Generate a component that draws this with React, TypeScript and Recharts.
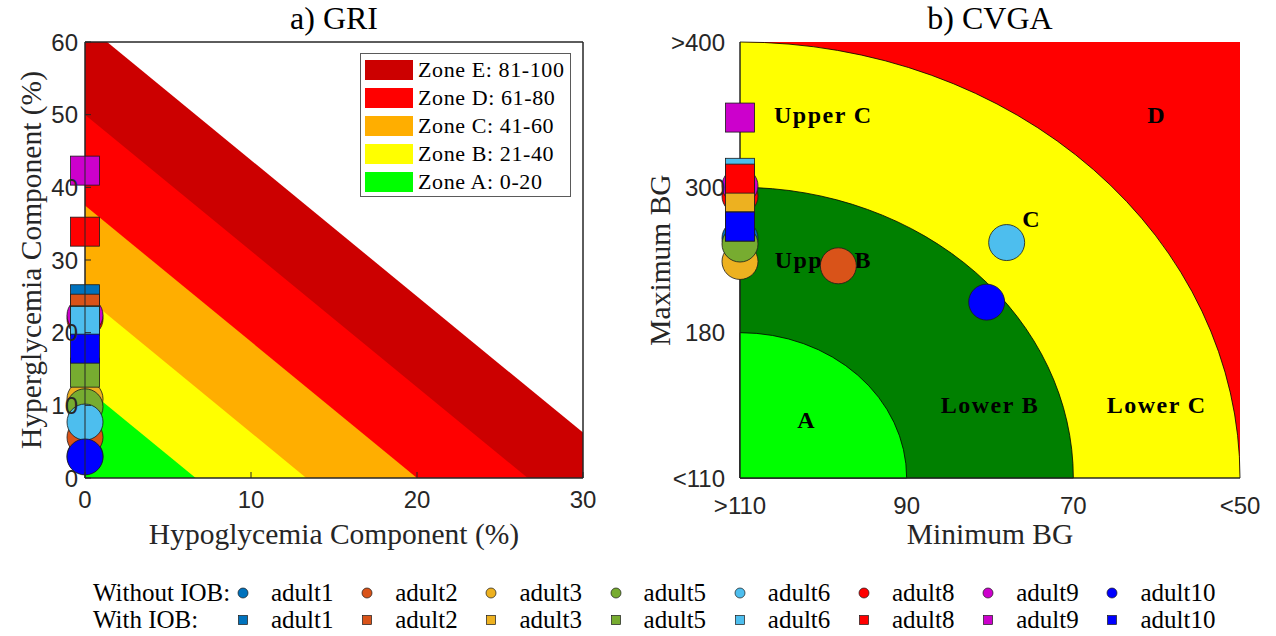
import React from "react";
import { ComposedChart, Scatter, XAxis, YAxis, ReferenceArea, Label } from "recharts";

// subjects and their colours
const adults = ["adult1", "adult2", "adult3", "adult5", "adult6", "adult8", "adult9", "adult10"];
const adultColors = ["#0072BD", "#D95319", "#EDB120", "#77AC30", "#4DBEEE", "#FF0000", "#CC00CC", "#0000FF"];

// a) GRI components (%)
const griHypoNoIob = [0, 0, 0, 0, 0, 0, 0, 0];
const griHyperNoIob = [3.0, 5.6, 10.9, 9.8, 7.7, 21.9, 22.4, 2.9];
const griHypoIob = [0, 0, 0, 0, 0, 0, 0, 0];
const griHyperIob = [24.6, 23.3, 21.7, 14.5, 21.6, 33.9, 42.3, 17.8];

// GRI zones: each zone upper bound is a line from (0, hyperMax) to (hypoMax, 0)
const griZoneNames = ["Zone E: 81-100", "Zone D: 61-80", "Zone C: 41-60", "Zone B: 21-40", "Zone A: 0-20"];
const griZoneColors = ["#CC0000", "#FF0000", "#FFAE00", "#FFFF00", "#00FF00"];
const griZoneHypoMax = [33.33, 26.67, 20, 13.33, 6.67];
const griZoneHyperMax = [62.5, 50, 37.5, 25, 12.5];
const griXTicks = [0, 10, 20, 30];
const griYTicks = [0, 10, 20, 30, 40, 50, 60];

// b) CVGA, positions in axis segments (0..3)
const cvgaXTicks = [0, 1, 2, 3];
const cvgaXLabels = [">110", "90", "70", "<50"];
const cvgaYTicks = [0, 1, 2, 3];
const cvgaYLabels = ["<110", "180", "300", ">400"];
const cvgaZoneRadius = [3, 2, 1];
const cvgaZoneColors = ["#FFFF00", "#008000", "#00FF00"];
const cvgaLabelText = ["A", "Lower B", "Upper B", "Lower C", "C", "Upper C", "D"];
const cvgaLabelX = [0.4, 1.5, 0.5, 2.5, 1.75, 0.5, 2.5];
const cvgaLabelY = [0.4, 0.5, 1.5, 0.5, 1.78, 2.5, 2.5];
const cvgaMinNoIob = [0, 0.59, 0, 0, 1.6, 0, 0, 1.48];
const cvgaMaxNoIob = [1.65, 1.46, 1.49, 1.61, 1.62, 1.94, 2.01, 1.21];
const cvgaMinIob = [0, 0, 0, 0, 0, 0, 0, 0];
const cvgaMaxIob = [1.76, 1.8, 1.93, 1.73, 2.1, 2.06, 2.48, 1.73];

const SERIF = "'Liberation Serif', 'Times New Roman', serif";
const SANS = "'Liberation Sans', Arial, sans-serif";
const AXIS = "#262626";

// left plot area inside its svg (from the margins below)
const GRI_PLOT = { x: 85, y: 42, w: 498, h: 436 };

const pts = (xs: number[], ys: number[]) => xs.map((x, i) => [{ x, y: ys[i] }]);

const circle = (color: string) => (p: any) => (
  <circle cx={p.cx} cy={p.cy} r={18} fill={color} stroke="#1a1a1a" strokeWidth={0.8} />
);
const square = (color: string) => (p: any) => (
  <rect x={p.cx - 14.5} y={p.cy - 14.5} width={29} height={29} fill={color} stroke="#1a1a1a" strokeWidth={0.8} />
);
const triangle = (color: string, id: string) => (p: any) => (
  <g>
    <defs>
      <clipPath id={id}>
        <rect x={GRI_PLOT.x} y={GRI_PLOT.y} width={GRI_PLOT.w} height={GRI_PLOT.h} />
      </clipPath>
    </defs>
    <path
      clipPath={`url(#${id})`}
      d={`M${p.x},${p.y + p.height} L${p.x + p.width},${p.y + p.height} L${p.x},${p.y} Z`}
      fill={color}
    />
  </g>
);
const quarter = (color: string) => (p: any) => (
  <path
    d={`M${p.x},${p.y + p.height} L${p.x + p.width},${p.y + p.height} A${p.width} ${p.height} 0 0 0 ${p.x},${p.y} Z`}
    fill={color}
    stroke="#000"
    strokeWidth={0.8}
  />
);
const zoneText = (p: any) => (
  <text
    x={p.cx}
    y={p.cy}
    textAnchor="middle"
    dominantBaseline="central"
    fontFamily={SERIF}
    fontWeight="bold"
    fontSize={24}
    letterSpacing={1.5}
    fill="#000"
  >
    {p.payload.t}
  </text>
);

const tickStyle = { fontSize: 24, fill: AXIS, fontFamily: SANS };

function GriChart() {
  const noIob = pts(griHypoNoIob, griHyperNoIob);
  const iob = pts(griHypoIob, griHyperIob);
  return (
    <ComposedChart width={640} height={560} margin={{ top: 41, right: 56, bottom: 22, left: 0 }}>
      {griZoneNames.map((n, i) => (
        <ReferenceArea
          key={n}
          x1={0}
          x2={griZoneHypoMax[i]}
          y1={0}
          y2={griZoneHyperMax[i]}
          ifOverflow="visible"
          shape={triangle(griZoneColors[i], "griclip" + i)}
        />
      ))}
      <ReferenceArea x1={0} x2={30} y1={0} y2={60} fill="none" fillOpacity={0} stroke={AXIS} strokeWidth={1} />
      {noIob.map((d, i) => (
        <Scatter key={"c" + i} name={adults[i]} data={d} shape={circle(adultColors[i])} isAnimationActive={false} />
      ))}
      {iob.map((d, i) => (
        <Scatter key={"s" + i} name={adults[i]} data={d} shape={square(adultColors[i])} isAnimationActive={false} />
      ))}
      <XAxis
        type="number"
        dataKey="x"
        domain={[0, 30]}
        ticks={griXTicks}
        interval={0}
        height={60}
        tickSize={-6}
        tickMargin={19}
        tick={tickStyle}
        stroke={AXIS}
        zIndex={700}
      >
        <Label value="Hypoglycemia Component (%)" position="center" dy={26} fontSize={29.5} fontFamily={SERIF} fill={AXIS} />
      </XAxis>
      <YAxis
        type="number"
        dataKey="y"
        domain={[0, 60]}
        ticks={griYTicks}
        interval={0}
        width={85}
        tickSize={-6}
        tickMargin={13}
        tick={tickStyle}
        stroke={AXIS}
        zIndex={700}
      >
        <Label value="Hyperglycemia Component (%)" position="center" angle={-90} dx={-12} fontSize={29.5} fontFamily={SERIF} fill={AXIS} />
      </YAxis>
      <XAxis
        xAxisId="top"
        orientation="top"
        type="number"
        domain={[0, 30]}
        ticks={griXTicks}
        interval={0}
        height={1}
        tickSize={-6}
        tickFormatter={() => ""}
        stroke={AXIS}
        zIndex={700}
      />
      <YAxis
        yAxisId="right"
        orientation="right"
        type="number"
        domain={[0, 60]}
        ticks={griYTicks}
        interval={0}
        width={1}
        tickSize={-6}
        tickFormatter={() => ""}
        stroke={AXIS}
        zIndex={700}
      />
    </ComposedChart>
  );
}

function CvgaChart() {
  const noIob = pts(cvgaMinNoIob, cvgaMaxNoIob);
  const iob = pts(cvgaMinIob, cvgaMaxIob);
  const labels = cvgaLabelText.map((t, i) => ({ x: cvgaLabelX[i], y: cvgaLabelY[i], t }));
  return (
    <ComposedChart width={636} height={560} margin={{ top: 42, right: 36, bottom: 22, left: 0 }}>
      <ReferenceArea x1={0} x2={3} y1={0} y2={3} fill="#FF0000" fillOpacity={1} stroke="none" />
      {cvgaZoneRadius.map((r, i) => (
        <ReferenceArea key={r} x1={0} x2={r} y1={0} y2={r} shape={quarter(cvgaZoneColors[i])} />
      ))}
      <XAxis
        type="number"
        dataKey="x"
        domain={[0, 3]}
        ticks={cvgaXTicks}
        interval={0}
        height={60}
        tickLine={false}
        tickMargin={13}
        tickFormatter={(v: number) => cvgaXLabels[v]}
        tick={tickStyle}
        stroke={AXIS}
      >
        <Label value="Minimum BG" position="center" dy={26} fontSize={29.5} fontFamily={SERIF} fill={AXIS} />
      </XAxis>
      <YAxis
        type="number"
        dataKey="y"
        domain={[0, 3]}
        ticks={cvgaYTicks}
        interval={0}
        width={100}
        tickLine={false}
        tickMargin={9}
        tickFormatter={(v: number) => cvgaYLabels[v]}
        tick={tickStyle}
        stroke={AXIS}
      >
        <Label value="Maximum BG" position="center" angle={-90} dx={-30} fontSize={29.5} fontFamily={SERIF} fill={AXIS} />
      </YAxis>
      <Scatter data={labels} shape={zoneText} isAnimationActive={false} />
      {noIob.map((d, i) => (
        <Scatter key={"c" + i} name={adults[i]} data={d} shape={circle(adultColors[i])} isAnimationActive={false} />
      ))}
      {iob.map((d, i) => (
        <Scatter key={"s" + i} name={adults[i]} data={d} shape={square(adultColors[i])} isAnimationActive={false} />
      ))}
    </ComposedChart>
  );
}

function ZoneLegend() {
  return (
    <div
      style={{
        position: "absolute",
        left: 360,
        top: 53,
        width: 209,
        height: 142,
        background: "#fff",
        border: "1px solid #5a5a5a",
        fontFamily: SERIF,
        fontSize: 22,
        letterSpacing: 0.6,
        color: "#000",
      }}
    >
      {griZoneNames.map((n, i) => (
        <div key={n} style={{ position: "absolute", left: 4, top: 5 + i * 28, height: 22, display: "flex", alignItems: "center" }}>
          <div style={{ width: 48, height: 20, background: griZoneColors[i], marginRight: 5 }} />
          <span style={{ whiteSpace: "nowrap" }}>{n}</span>
        </div>
      ))}
    </div>
  );
}

function BottomLegend() {
  const rows = [
    { title: "Without IOB:", round: true, top: 580 },
    { title: "With IOB:", round: false, top: 607 },
  ];
  return (
    <>
      {rows.map((r) => (
        <div key={r.title} style={{ position: "absolute", left: 0, top: r.top, height: 26, width: 1276, fontFamily: SERIF, fontSize: 25, color: "#000" }}>
          <span style={{ position: "absolute", left: 93, top: 0, lineHeight: "26px", whiteSpace: "nowrap" }}>{r.title}</span>
          {adults.map((a, i) => {
            const cx = 243 + i * 124.2;
            return (
              <React.Fragment key={a}>
                <svg style={{ position: "absolute", left: cx - 6, top: 7 }} width={12} height={12}>
                  {r.round ? (
                    <circle cx={6} cy={6} r={5} fill={adultColors[i]} stroke="#1a1a1a" strokeWidth={0.7} />
                  ) : (
                    <rect x={1.5} y={1.5} width={9} height={9} fill={adultColors[i]} stroke="#1a1a1a" strokeWidth={0.7} />
                  )}
                </svg>
                <span style={{ position: "absolute", left: cx + 28, top: 0, lineHeight: "26px", whiteSpace: "nowrap" }}>{a}</span>
              </React.Fragment>
            );
          })}
        </div>
      ))}
    </>
  );
}

export default function App() {
  return (
    <div style={{ position: "absolute", left: 0, top: 0, width: 1276, height: 636, background: "#fff", overflow: "hidden" }}>
      <div style={{ position: "absolute", left: 0, top: 0 }}>
        <GriChart />
      </div>
      <div style={{ position: "absolute", left: 640, top: 0 }}>
        <CvgaChart />
      </div>
      <div style={{ position: "absolute", left: 85, width: 498, top: 0, textAlign: "center", fontFamily: SERIF, fontSize: 32, color: "#000" }}>a) GRI</div>
      <div style={{ position: "absolute", left: 740, width: 500, top: 0, textAlign: "center", fontFamily: SERIF, fontSize: 32, color: "#000" }}>b) CVGA</div>
      <ZoneLegend />
      <BottomLegend />
    </div>
  );
}
